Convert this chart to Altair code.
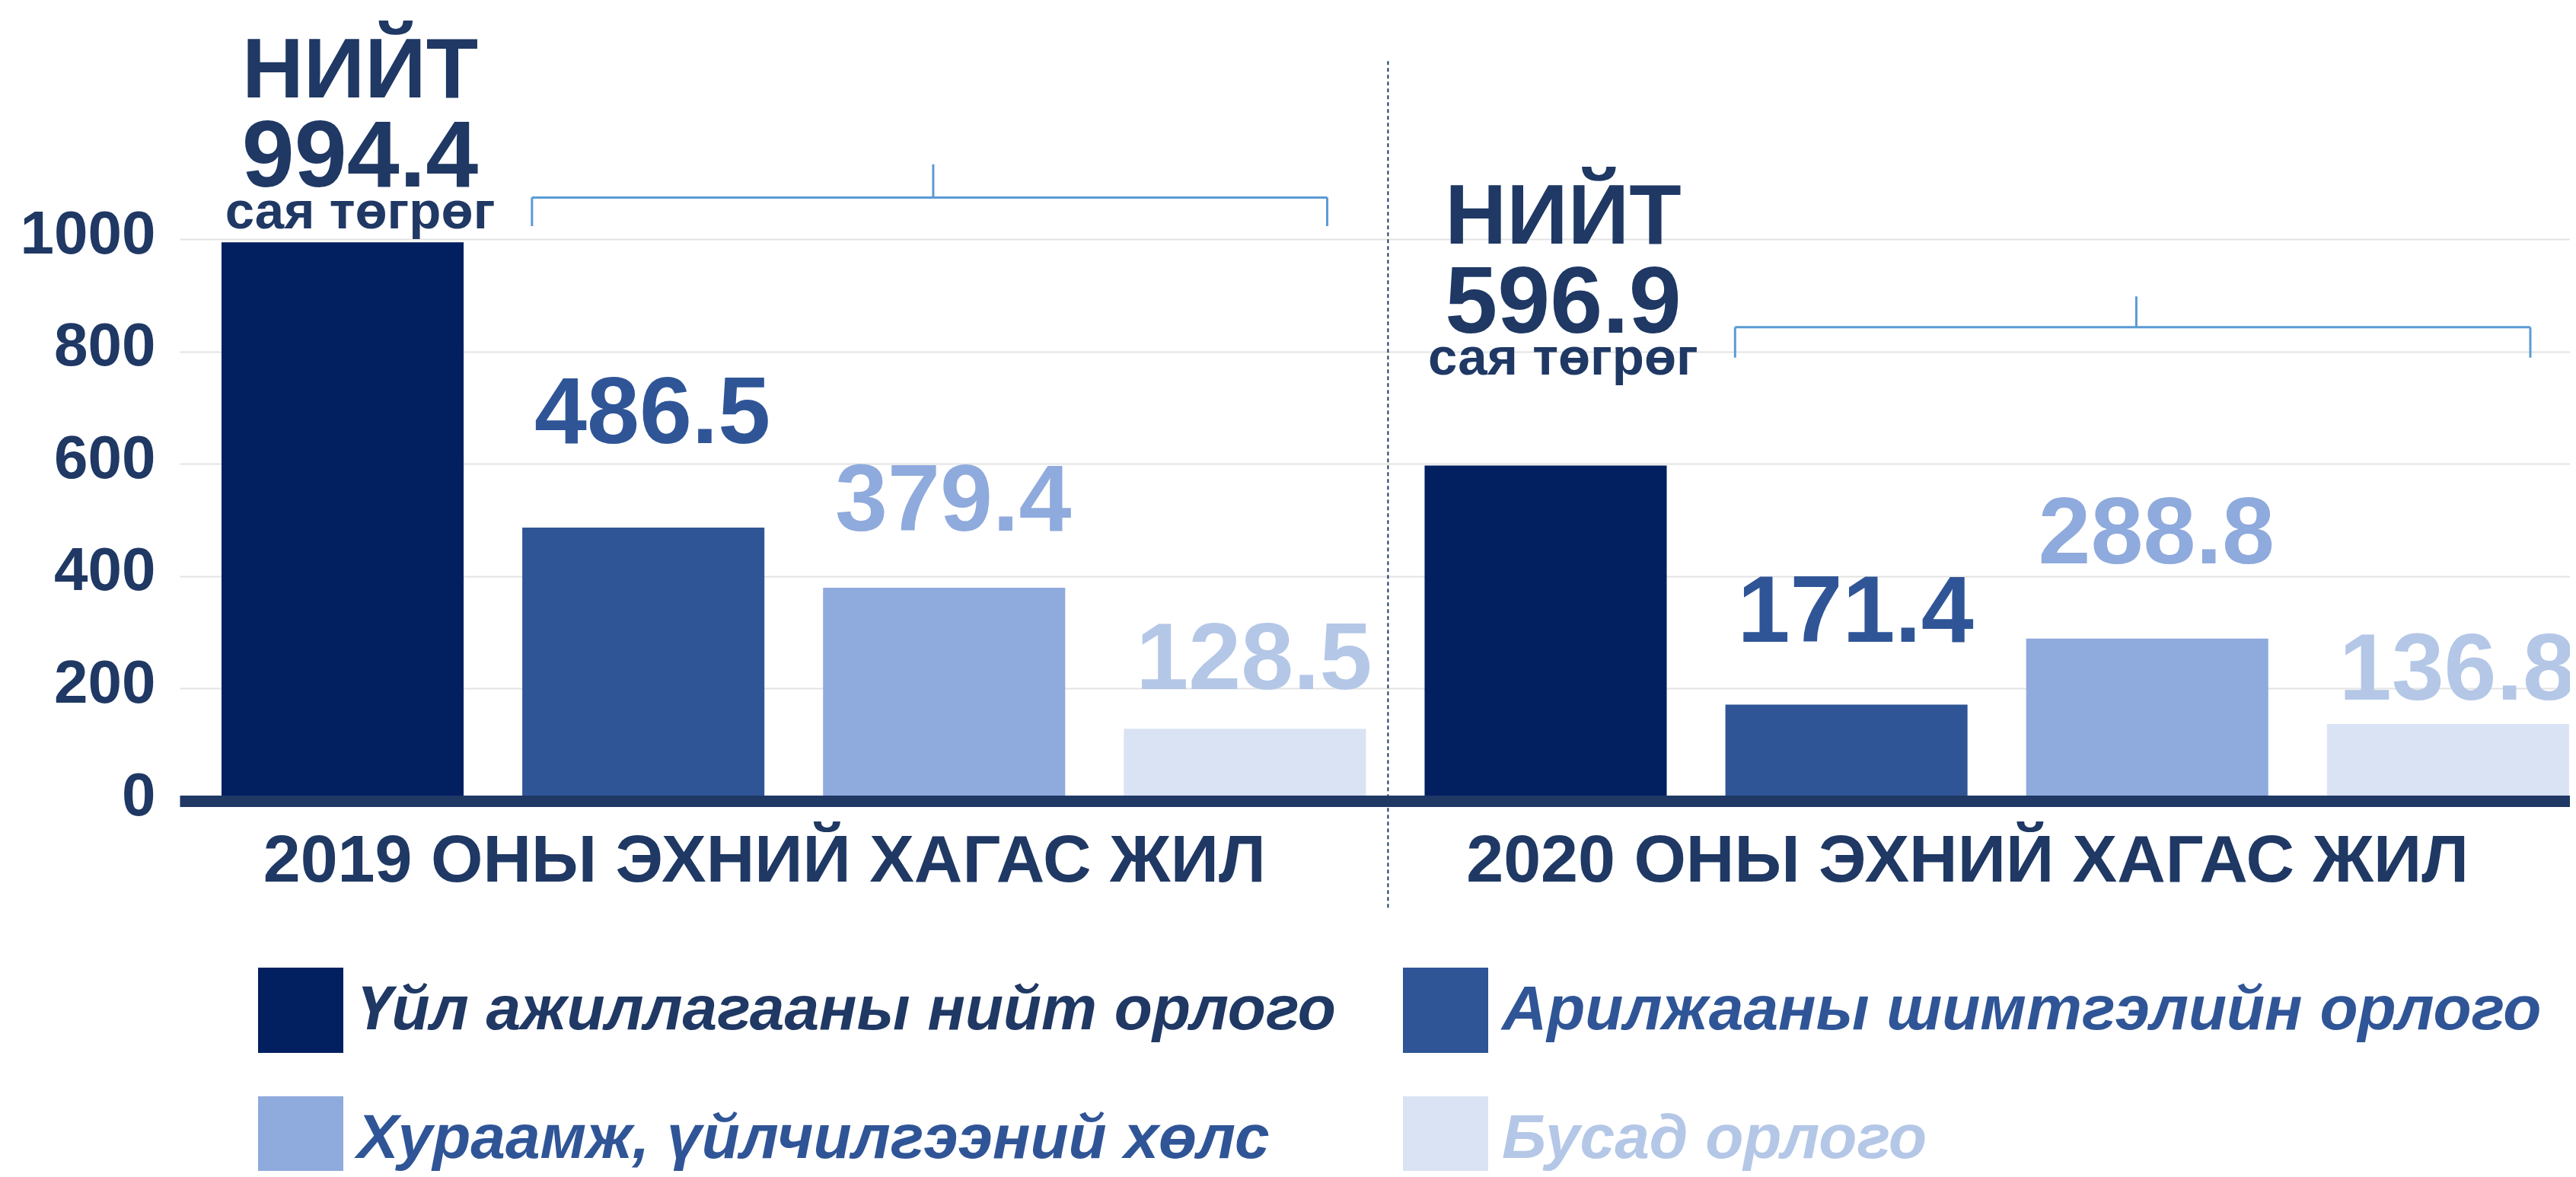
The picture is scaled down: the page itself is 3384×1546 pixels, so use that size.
import altair as alt
import pandas as pd

# ---------------- data ----------------
YEARS = ["2019", "2020"]
SERIES = [
    "Үйл ажиллагааны нийт орлого",
    "Арилжааны шимтгэлийн орлого",
    "Хураамж, үйлчилгээний хөлс",
    "Бусад орлого",
]
VALUES_2019 = [994.4, 486.5, 379.4, 128.5]
VALUES_2020 = [596.9, 171.4, 288.8, 136.8]
GROUP_LABELS = ["2019 ОНЫ ЭХНИЙ ХАГАС ЖИЛ", "2020 ОНЫ ЭХНИЙ ХАГАС ЖИЛ"]
TOTAL_WORD = "НИЙТ"
UNIT_WORD = "сая төгрөг"
Y_TICKS = [0, 200, 400, 600, 800, 1000]

# ---------------- style ----------------
FONT = "Liberation Sans"
BAR_COLORS = ["#022060", "#2F5597", "#8FAADC", "#DAE3F3"]
LABEL_COLORS = ["#1F3864", "#2F5597", "#8FAADC", "#B4C7E7"]
LEGEND_TEXT_COLORS = ["#1F3864", "#2F5597", "#2F5597", "#B4C7E7"]
NAVY = "#1F3864"
BRACE_COLOR = "#5B9BD5"
GRID_COLOR = "#E3E3E3"
W, H = 3140, 738
PX = H / 1000.0  # pixels per data unit
LIFT_PX = [0, 111, 75, 52, 101, 83, 99, 32]  # label lift above bar top (px)
BRACE_LEVELS = [(1074, 1023, 1133), (843, 789, 898)]  # line, ends, tip (data units)
DIVIDER_Y = (-190, 1317)

KEYS = [f"{y}|{i}" for y in YEARS for i in range(len(SERIES))]

rows = []
for yi, (year, vals) in enumerate(zip(YEARS, [VALUES_2019, VALUES_2020])):
    for si, (s, v) in enumerate(zip(SERIES, vals)):
        rows.append(dict(
            year=year, series=s, value=v, key=f"{year}|{si}", idx=si,
            label=f"{v:.1f}", lift=v + LIFT_PX[yi * 4 + si] / PX,
            lcolor=LABEL_COLORS[si],
        ))
df = pd.DataFrame(rows)

groups = pd.DataFrame(dict(key=[f"{y}|1" for y in YEARS], label=GROUP_LABELS, zero=[0, 0]))
divider = pd.DataFrame(dict(key=[f"{YEARS[0]}|3"], y0=[DIVIDER_Y[0]], y1=[DIVIDER_Y[1]]))
brace = pd.DataFrame(dict(
    left=[f"{y}|1" for y in YEARS],
    mid=[f"{y}|2" for y in YEARS],
    right=[f"{y}|3" for y in YEARS],
    level=[b[0] for b in BRACE_LEVELS],
    end=[b[1] for b in BRACE_LEVELS],
    tip=[b[2] for b in BRACE_LEVELS],
))

xscale = alt.Scale(domain=KEYS, paddingInner=0.195, paddingOuter=0.071, align=0.98)
yscale = alt.Scale(domain=[0, 1000], nice=False, zero=True)

XAXIS = alt.Axis(title=None, labels=False, ticks=False, grid=False, domain=True,
                 domainColor=NAVY, domainWidth=15, zindex=1)
YAXIS = alt.Axis(title=None, values=Y_TICKS, format="d", domain=False, ticks=False,
                 grid=True, gridColor=GRID_COLOR, gridWidth=2, labelFont=FONT,
                 labelFontSize=80, labelFontWeight="bold", labelColor=NAVY,
                 labelPadding=32, labelOffset=-6, labelLimit=1000)


def X(field, bp=None):
    if bp is None:
        return alt.X(field, type="nominal", scale=xscale, axis=XAXIS)
    return alt.X(field, type="nominal", scale=xscale, axis=XAXIS, bandPosition=bp)


def Y(field):
    return alt.Y(field, type="quantitative", scale=yscale, axis=YAXIS)


cond = "'" + LEGEND_TEXT_COLORS[-1] + "'"
for s, c in reversed(list(zip(SERIES[:-1], LEGEND_TEXT_COLORS[:-1]))):
    cond = f"datum.label == '{s}' ? '{c}' : ({cond})"

bars = alt.Chart(df).mark_bar().encode(
    x=X("key"),
    y=Y("value"),
    color=alt.Color("series:N", scale=alt.Scale(domain=SERIES, range=BAR_COLORS),
                    legend=alt.Legend(
                        title=None, orient="none", legendX=103, legendY=957,
                        direction="horizontal", columns=2, symbolType="square",
                        symbolSize=12544, symbolStrokeWidth=0, symbolOpacity=1,
                        labelFont=FONT, labelFontSize=82, labelFontWeight="bold",
                        labelFontStyle="italic",
                        labelColor=alt.ExprRef(expr=cond),
                        labelOffset=18, rowPadding=57, columnPadding=88,
                        labelLimit=3000, padding=0)),
)

tot = alt.Chart(df).transform_filter("datum.idx == 0")
t_word = tot.mark_text(font=FONT, fontSize=112, fontWeight="bold", color=NAVY,
                       baseline="alphabetic", dy=-190, dx=23).encode(
    x=X("key"), y=Y("lift"), text=alt.value(TOTAL_WORD))
t_val = tot.mark_text(font=FONT, fontSize=124, fontWeight="bold", color=NAVY,
                      baseline="alphabetic", dy=-73, dx=23).encode(
    x=X("key"), y=Y("lift"), text=alt.Text("label:N"))
t_unit = tot.mark_text(font=FONT, fontSize=69, fontWeight="bold", color=NAVY,
                       baseline="alphabetic", dy=-18, dx=23).encode(
    x=X("key"), y=Y("lift"), text=alt.value(UNIT_WORD))

vals = alt.Chart(df).transform_filter("datum.idx > 0").mark_text(
    font=FONT, fontSize=124, fontWeight="bold", baseline="alphabetic", dx=12).encode(
    x=X("key"), y=Y("lift"), text=alt.Text("label:N"),
    fill=alt.Fill("lcolor:N", scale=None))

grp = alt.Chart(groups).mark_text(font=FONT, fontSize=88, fontWeight="bold",
                                   color=NAVY, baseline="alphabetic", dy=106).encode(
    x=X("key", 1.0), y=Y("zero"), text=alt.Text("label:N"))

div = alt.Chart(divider).mark_rule(color=NAVY, strokeWidth=2, strokeDash=[5, 4],
                                   xOffset=29).encode(
    x=X("key", 1.0), y=Y("y0"), y2=alt.Y2("y1"))

b_line = alt.Chart(brace).mark_rule(color=BRACE_COLOR, strokeWidth=3).encode(
    x=X("left", 0.04), x2=alt.X2("right", bandPosition=0.84), y=Y("level"))
b_left = alt.Chart(brace).mark_rule(color=BRACE_COLOR, strokeWidth=3).encode(
    x=X("left", 0.04), y=Y("level"), y2=alt.Y2("end"))
b_right = alt.Chart(brace).mark_rule(color=BRACE_COLOR, strokeWidth=3).encode(
    x=X("right", 0.84), y=Y("level"), y2=alt.Y2("end"))
b_tip = alt.Chart(brace).mark_rule(color=BRACE_COLOR, strokeWidth=3).encode(
    x=X("mid", 0.455), y=Y("level"), y2=alt.Y2("tip"))

chart = alt.layer(
    bars, div, b_line, b_left, b_right, b_tip, t_word, t_val, t_unit, vals, grp
).properties(
    width=W, height=H,
    padding={"left": 228, "top": 306, "right": 0, "bottom": 486},
    autosize=alt.AutoSizeParams(type="none"),
    background="white",
).configure_view(stroke=None)

chart.save("out.html", embed_options={"renderer": "svg", "actions": False})
